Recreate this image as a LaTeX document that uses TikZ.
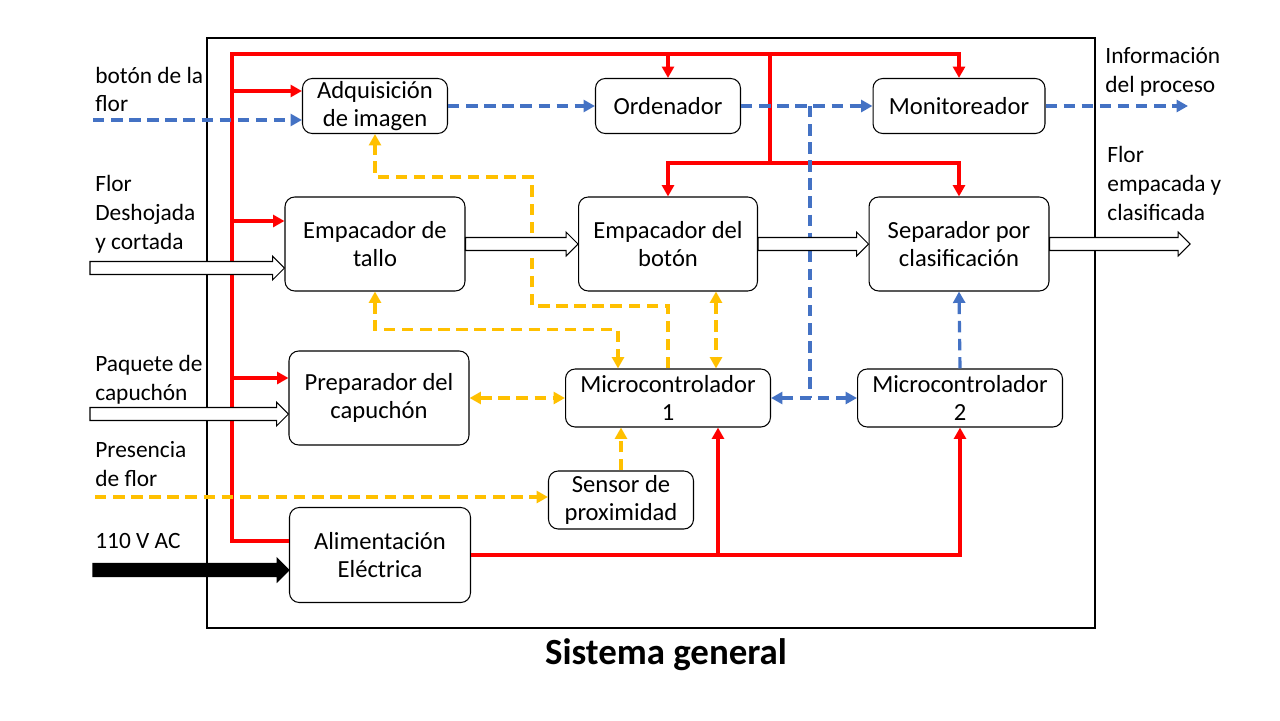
\documentclass[tikz,border=0pt]{standalone}
\usepackage{fontspec}
\setmainfont{Carlito}
\usetikzlibrary{positioning,calc,arrows.meta}
\definecolor{pwr}{RGB}{255,0,0}
\definecolor{dat}{RGB}{68,114,196}
\definecolor{ctl}{RGB}{255,192,0}

\newcommand{\fatarrow}[3]{%
  \draw[line width=0.6pt,#1] let \p1=(#2), \p2=(#3) in
    (\x1,\y1+3.7pt) -- (\x2-6.8pt,\y1+3.7pt) -- (\x2-6.8pt,\y1+6.8pt) -- (\x2,\y1)
    -- (\x2-6.8pt,\y1-6.8pt) -- (\x2-6.8pt,\y1-3.7pt) -- (\x1,\y1-3.7pt) -- cycle;}

\begin{document}
\begin{tikzpicture}[x=0.02cm,y=-0.02cm,
    every node/.style={font=\fontsize{14}{16.4}\selectfont},
    >={Triangle[length=6.5pt,width=6.8pt]},
    block/.style={draw,line width=0.6pt,rounded corners=5.5pt,align=center,inner sep=1pt},
    power/.style={draw=pwr,line width=1.9pt},
    ctrl/.style={draw=ctl,line width=1.8pt,dash pattern=on 6.5pt off 3.8pt},
    data/.style={draw=dat,line width=1.8pt,dash pattern=on 6.5pt off 3.8pt},
    lbl/.style={anchor=west,align=left,inner sep=0pt,font=\fontsize{13.3}{16.4}\selectfont}]

    \useasboundingbox (0,0) rectangle (1280,720);
    \draw[line width=0.6pt] (207,38) rectangle (1095,628);

    \node[block,minimum width=2.9cm,minimum height=1.1cm] (adq) at (375,106) {Adquisición\\de imagen};
    \node[block,minimum width=2.9cm,minimum height=1.1cm] (orden) at (668,106) {Ordenador};
    \node[block,minimum width=3.44cm,minimum height=1.1cm] (monit) at (959,106) {Monitoreador};
    \node[block,minimum width=3.6cm,minimum height=1.88cm] (tallo) at (375,244) {Empacador de\\tallo};
    \node[block,minimum width=3.58cm,minimum height=1.88cm] (boton) at (668,244) {Empacador del\\botón};
    \node[block,minimum width=3.6cm,minimum height=1.88cm] (separ) at (959,244) {Separador por\\clasificación};
    \node[block,minimum width=3.6cm,minimum height=1.88cm] (prep) at (379,398) {Preparador del\\capuchón};
    \node[block,minimum width=4.1cm,minimum height=1.16cm] (micro1) at (668,398) {Microcontrolador\\1};
    \node[block,minimum width=4.1cm,minimum height=1.16cm] (micro2) at (960,398) {Microcontrolador\\2};
    \node[block,minimum width=2.9cm,minimum height=1.16cm] (sensor) at (621,500) {Sensor de\\proximidad};
    \node[block,minimum width=3.62cm,minimum height=1.9cm] (alim) at (380,555) {Alimentación\\Eléctrica};

    \node[lbl] (lbot) at (95,89.5) {botón de la\\flor};
    \node[lbl] (lflor) at (95,214) {Flor\\Deshojada\\y cortada};
    \node[lbl] (lcap) at (95,380) {Paquete de\\capuchón};
    \node[lbl] (lpres) at (95,464) {Presencia\\de flor};
    \node[lbl] (lac) at (95,541) {110 V AC};
    \node[lbl] (linfo) at (1105,71.5) {Información\\del proceso};
    \node[lbl] (lout) at (1107,183.5) {Flor\\empacada y\\clasificada};
    \node[font=\bfseries\fontsize{21}{25}\selectfont] (title) at (666,655) {Sistema general};

    \coordinate (bustop) at (232,54);
    \coordinate (busbot) at (232,541);
    \coordinate (b1) at (232,91);
    \coordinate (b2) at (232,221);
    \coordinate (b3) at (232,378);
    \coordinate (tapA) at (770,54);
    \coordinate (tapB) at (770,163);
    \coordinate (bj) at (810,106);
    \coordinate (inbot) at (93,120);
    \coordinate (outinfo) at (1188,106);
    \coordinate (inpres) at (95,497);
    \coordinate (inflor) at (90,268);
    \coordinate (incap) at (90,414);
    \coordinate (inac) at (93,570);
    \coordinate (outflor) at (1190,244);
    \coordinate (m1p) at ($(micro1.south)+(50,0)$);
    \coordinate (m1a) at ($(micro1.north)+(-50,0)$);
    \coordinate (m1b) at ($(micro1.north)+(48,0)$);

    % alimentacion
    \draw[power] (busbot -| alim.west) -- (busbot) -- (bustop) -- (tapA);
    \draw[power,->] (bustop) -| (orden.north);
    \draw[power,->] (tapA) -| (monit.north);
    \draw[power] (tapA) -- (tapB);
    \draw[power,->] (tapB) -| (boton.north);
    \draw[power,->] (tapB) -| (separ.north);
    \draw[power,->] (b1) -- (b1 -| adq.west);
    \draw[power,->] (b2) -- (b2 -| tallo.west);
    \draw[power,->] (b3) -- (b3 -| prep.west);
    \draw[power,->] (alim.east) -| (micro2.south);
    \draw[power,->] (alim.east -| m1p) -- (m1p);

    % control
    \draw[ctrl,->] (micro1.north) |- (532,306) -- (532,177) -| (adq.south);
    \draw[ctrl,<->] (tallo.south) -- ++(0,38) -| (m1a);
    \draw[ctrl,<->] (m1b |- boton.south) -- (m1b);
    \draw[ctrl,<->] (prep.east) -- (micro1.west);
    \draw[ctrl,->] (sensor.north) -- (sensor.north |- micro1.south);
    \draw[ctrl,->] (inpres) -- (inpres -| sensor.west);

    % datos
    \draw[data,->] (inbot) -- (inbot -| adq.west);
    \draw[data,->] (adq.east) -- (orden.west);
    \draw[data,->] (orden.east) -- (monit.west);
    \draw[data,->] (monit.east) -- (outinfo);
    \draw[data] (bj) -- (bj |- micro1.east);
    \draw[data,<->] (micro1.east) -- (micro2.west);
    \draw[data,->] (micro2.north) -- (separ.south);

    % flujo de producto
    \fatarrow{fill=white}{inflor}{tallo.west}
    \fatarrow{fill=white}{tallo.east}{boton.west}
    \fatarrow{fill=white}{boton.east}{separ.west}
    \fatarrow{fill=white}{separ.east}{outflor}
    \fatarrow{fill=white}{incap}{prep.west}
    \fatarrow{fill=black}{inac}{alim.west}

\end{tikzpicture}
\end{document}
